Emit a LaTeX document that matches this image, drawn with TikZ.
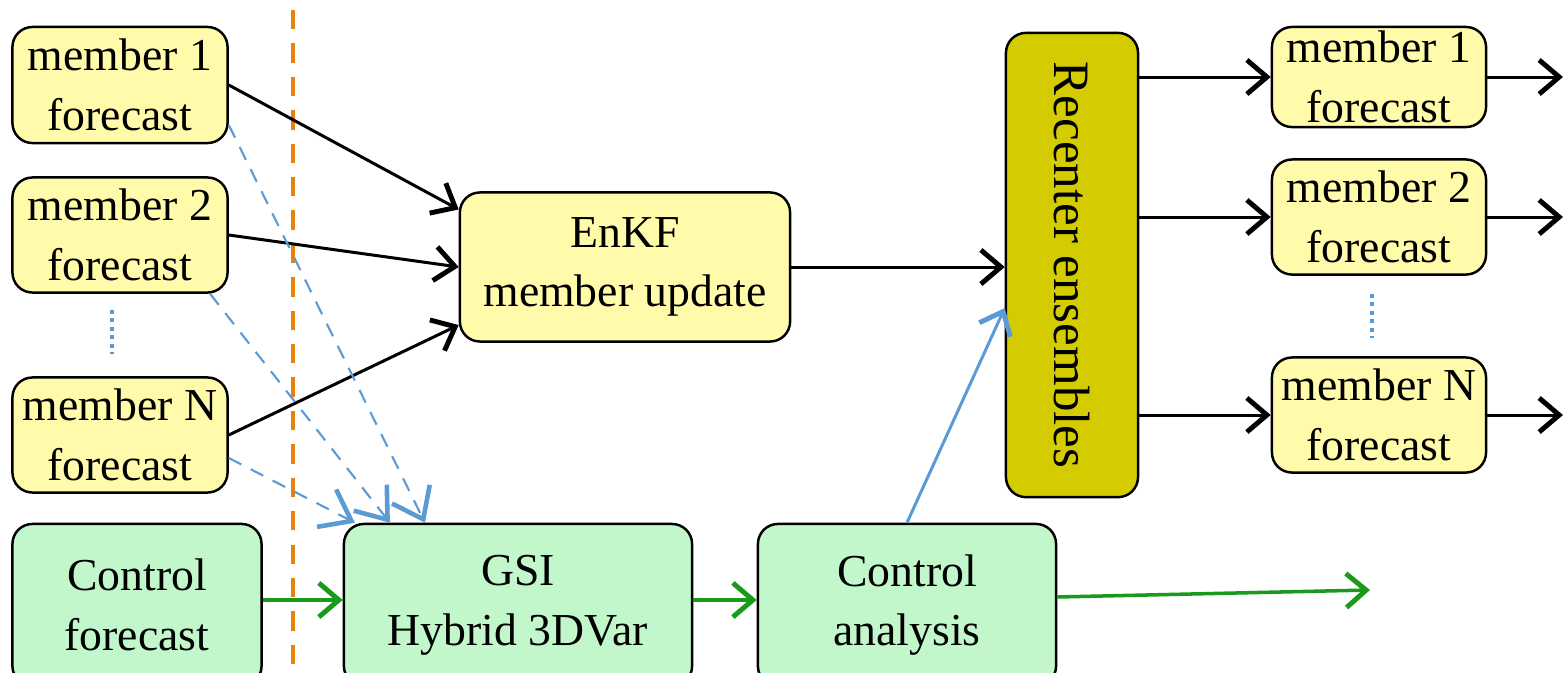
\documentclass[tikz,border=0pt]{standalone}
\usepackage{fontspec}
\setmainfont{Liberation Serif}
\usetikzlibrary{arrows.meta,positioning}

\definecolor{memberyellow}{HTML}{FFFBAA}
\definecolor{controlgreen}{HTML}{C2F7CC}
\definecolor{recenterolive}{HTML}{D4CC00}
\definecolor{ensblue}{HTML}{5B9BD5}
\definecolor{ctrlgreen}{HTML}{1A9A1A}
\definecolor{cutorange}{HTML}{E8820C}

\tikzset{
  box/.style={rectangle, draw, rounded corners=0.2cm, line width=0.7pt, align=center, inner sep=0pt, font=\fontsize{13}{17}\selectfont},
  yellowbox/.style={box, fill=memberyellow},
  greenbox/.style={box, fill=controlgreen},
  link/.style={->, line width=0.85pt},
  enslink/.style={-{Straight Barb[length=2.8mm,width=4.2mm,line width=1.3pt]}, ensblue, line width=0.6pt, dash pattern=on 4pt off 3pt},
  ctrllink/.style={->, ctrlgreen, line width=1pt},
  vdots/.style={ensblue, line width=1.2pt, dash pattern=on 1.2pt off 1.2pt}
}

\begin{document}
\begin{tikzpicture}[x=0.01cm, y=-0.01cm, >={Straight Barb[length=2mm,width=3.4mm,line width=1.4pt]}]
    \useasboundingbox (0,0) rectangle (1565,672);

    % ensemble forecasts going in
    \node (mem1) [yellowbox, minimum width=2.15cm, minimum height=1.16cm] at (120,85) {member 1\\forecast};
    \node (mem2) [yellowbox, minimum width=2.15cm, minimum height=1.15cm] at (120,235) {member 2\\forecast};
    \node (memN) [yellowbox, minimum width=2.15cm, minimum height=1.15cm] at (120,435) {member N\\forecast};

    % control branch
    \node (ctrlfc) [greenbox, minimum width=2.49cm, minimum height=1.62cm] at (137,605) {Control\\forecast};
    \node (gsi) [greenbox, minimum width=3.48cm, minimum height=1.62cm] at (518,605) {GSI\\Hybrid 3DVar};
    \node (ctrlan) [greenbox, minimum width=2.98cm, minimum height=1.62cm] at (907,605) {Control\\analysis};

    \node (enkf) [yellowbox, minimum width=3.30cm, minimum height=1.49cm] at (625,267) {EnKF\\member update};
    \node (recenter) [box, fill=recenterolive, minimum width=1.32cm, minimum height=4.64cm, font=\fontsize{14.5}{17}\selectfont] at (1072,265) {\rotatebox{-90}{Recenter ensembles}};

    % ensemble forecasts going out
    \node (out1) [yellowbox, minimum width=2.14cm, minimum height=1.00cm] at (1379,77) {member 1\\forecast};
    \node (out2) [yellowbox, minimum width=2.14cm, minimum height=1.15cm] at (1379,217) {member 2\\forecast};
    \node (outN) [yellowbox, minimum width=2.14cm, minimum height=1.15cm] at (1379,415) {member N\\forecast};

    \coordinate (end1) at (1563,77);
    \coordinate (end2) at (1563,217);
    \coordinate (endN) at (1563,415);
    \coordinate (endc) at (1370,590);

    % cycle cut
    \draw[cutorange, line width=1.2pt, dash pattern=on 5.5pt off 4pt] (293,10) -- (293,680);

    \draw[vdots] ([xshift=-0.08cm, yshift=-0.16cm]mem2.south) -- ([xshift=-0.08cm, yshift=0.22cm]memN.north);
    \draw[vdots] ([xshift=-0.07cm, yshift=-0.18cm]out2.south) -- ([xshift=-0.07cm, yshift=0.18cm]outN.north);

    \draw[link] (mem1.east) -- ([yshift=0.575cm]enkf.west);
    \draw[link] (mem2.east) -- (enkf.west);
    \draw[link] (memN.east) -- ([yshift=-0.58cm]enkf.west);
    \draw[link] (enkf.east) -- (recenter.west |- enkf.east);

    \draw[enslink] ([yshift=-0.40cm]mem1.east) -- ([xshift=-0.93cm]gsi.north);
    \draw[enslink] ([xshift=0.90cm]mem2.south) -- ([xshift=-1.28cm]gsi.north);
    \draw[enslink] ([yshift=-0.23cm]memN.east) -- ([xshift=-1.63cm]gsi.north);

    \draw[ctrllink] ([yshift=0.05cm]ctrlfc.east) -- ([yshift=0.05cm]gsi.west);
    \draw[ctrllink] ([yshift=0.05cm]gsi.east) -- ([yshift=0.05cm]ctrlan.west);
    \draw[ctrllink] ([yshift=0.08cm]ctrlan.east) -- (endc);
    \draw[->, ensblue, line width=0.85pt] (ctrlan.north) -- ([yshift=-0.43cm]recenter.west);

    \draw[link] (recenter.east |- out1.west) -- (out1.west);
    \draw[link] (recenter.east |- out2.west) -- (out2.west);
    \draw[link] (recenter.east |- outN.west) -- (outN.west);
    \draw[link] (out1.east) -- (end1);
    \draw[link] (out2.east) -- (end2);
    \draw[link] (outN.east) -- (endN);
\end{tikzpicture}
\end{document}
